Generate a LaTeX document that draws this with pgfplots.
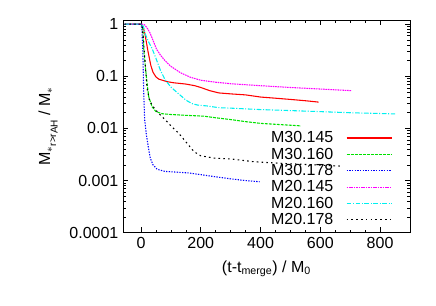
\documentclass[border=0pt]{standalone}
\usepackage{pgfplots}
\pgfplotsset{compat=1.18}
\usepackage{amsmath}
\usepackage{fontspec}
\setmainfont{Liberation Sans}
\definecolor{cgreen}{RGB}{0,225,0}
\definecolor{cmag}{RGB}{255,0,255}
\definecolor{ccyan}{RGB}{0,240,240}
\begin{document}
\begin{tikzpicture}
\begin{axis}[
  scale only axis,
  width=215pt, height=159.4pt,
  ymode=log,
  xmin=-60, xmax=900,
  ymin=1e-4, ymax=1.2,
  xtick={0,200,400,600,800},
  minor x tick num=3,
  ytick={1e-4,1e-3,1e-2,1e-1,1},
  yticklabels={0.0001,0.001,0.01,0.1,1},
  tick align=inside,
  major tick length=4pt,
  minor tick length=2pt,
  axis line style={line width=0.7pt},
  every tick/.style={black, line width=0.5pt},
  tick label style={font=\fontsize{12}{14}\selectfont},
  /pgf/number format/assume math mode=true,
  label style={font=\fontsize{12}{14}\selectfont},
  xlabel={(t-t$_{\text{merge}}$) / M$_{\text{0}}$},
  ylabel={M$_{*}$\raisebox{-4.5pt}{\fontsize{7.5}{8}\selectfont r>r\raisebox{-1pt}{AH}} / M$_*$},
  xlabel style={yshift=-2pt},
  ylabel style={yshift=2pt},
  legend plot pos=right,
  legend cell align=right,
  legend style={draw=none, fill=none, font=\fontsize{12}{14}\selectfont,
    at={(rel axis cs:0.94,0.49)}, anchor=north east,
    row sep=-1.6pt, column sep=7.5pt, inner sep=0pt},
  legend image code/.code={\draw[#1] (0pt,0pt) -- (34pt,0pt);},
  every axis plot/.append style={line width=0.8pt},
]
\addplot[red, solid] coordinates {
(-55,1)(0,1)(5,0.95)(12,0.7)(18,0.45)(22,0.33)(28,0.22)(33,0.16)(40,0.12)(50,0.097)(60,0.088)(87,0.079)(110,0.075)(150,0.071)(180,0.066)(200,0.061)(230,0.053)(260,0.048)(300,0.046)(350,0.044)(400,0.040)(450,0.038)(500,0.036)(550,0.034)(594,0.032)};
\addlegendentry{M30.145}
\addplot[cgreen, dash pattern=on 2.2pt off 0.8pt] coordinates {
(-55,1)(0,1)(4,0.9)(7,0.7)(9,0.34)(14,0.164)(20,0.075)(26,0.04)(37,0.026)(50,0.021)(70,0.0192)(100,0.0185)(154,0.0178)(210,0.0172)(250,0.016)(300,0.0148)(350,0.0135)(400,0.0125)(450,0.012)(535,0.0112)};
\addlegendentry{M30.160}
\addplot[blue, dash pattern=on 1pt off 1pt] coordinates {
(-55,1)(0,1)(3,0.8)(6,0.3)(9,0.05)(12,0.015)(18,0.0075)(25,0.0042)(31,0.0027)(40,0.002)(54,0.00165)(80,0.0015)(120,0.00145)(160,0.0014)(200,0.0013)(250,0.00118)(300,0.00108)(350,0.001)(397,0.00095)};
\addlegendentry{M30.178}
\addplot[cmag, dash pattern=on 1.2pt off 0.6pt] coordinates {
(-55,1)(5,1)(12,0.97)(20,0.85)(30,0.68)(42,0.46)(52,0.33)(65,0.255)(80,0.2)(98,0.158)(132,0.117)(165,0.096)(200,0.084)(250,0.077)(300,0.072)(400,0.066)(500,0.061)(600,0.057)(705,0.053)};
\addlegendentry{M20.145}
\addplot[ccyan, dash pattern=on 3.5pt off 1.2pt on 0.8pt off 1.2pt] coordinates {
(-55,1)(0,1)(8,0.9)(14,0.65)(26,0.45)(37,0.34)(50,0.22)(65,0.13)(80,0.087)(100,0.062)(130,0.044)(150,0.035)(170,0.030)(190,0.028)(221,0.027)(260,0.025)(300,0.0245)(400,0.023)(500,0.022)(600,0.021)(700,0.020)(850,0.019)};
\addlegendentry{M20.160}
\addplot[black, dash pattern=on 1.2pt off 2.4pt] coordinates {
(-55,1)(0,1)(4,0.9)(8,0.5)(12,0.25)(16,0.12)(20,0.06)(28,0.035)(37,0.028)(48,0.023)(59,0.0195)(87,0.0135)(105,0.0105)(126,0.0081)(154,0.0052)(177,0.0036)(199,0.0030)(244,0.0027)(300,0.0026)(377,0.0023)(434,0.0022)(500,0.0021)(580,0.0020)(665,0.0019)};
\addlegendentry{M20.178}
\end{axis}
\path ([xshift=-92.25pt,yshift=-54.4pt]current axis.south west) rectangle ([xshift=19.5pt,yshift=15pt]current axis.north east);
\end{tikzpicture}
\end{document}
